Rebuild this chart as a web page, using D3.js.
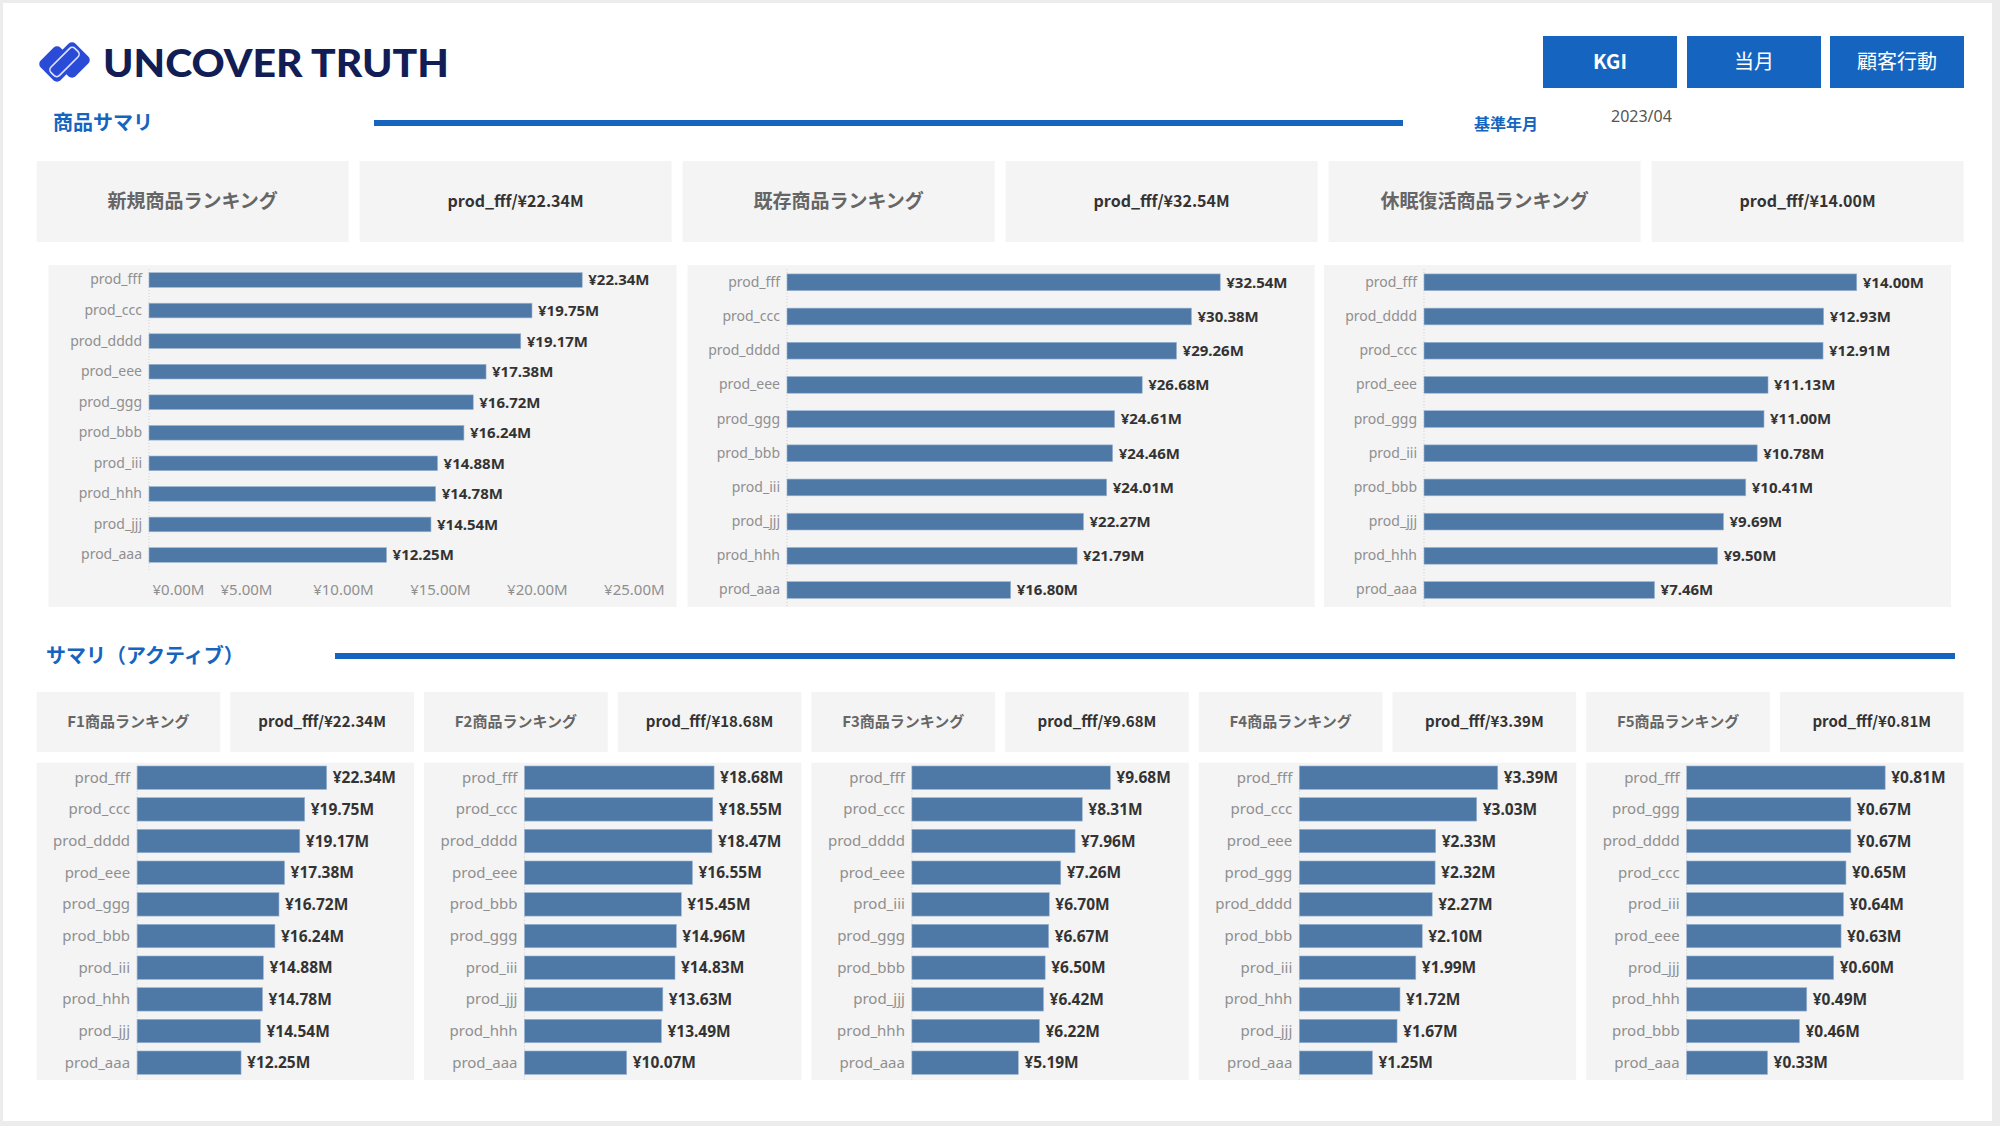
<!DOCTYPE html>
<html><head><meta charset="utf-8">
<script src="https://cdn.jsdelivr.net/npm/d3@7"></script>
<style>html,body{margin:0;padding:0;background:#fff;}svg{display:block}</style>
</head><body>
<svg id="c" width="2000" height="1126"></svg>
<script>
// ---------------- data ----------------
const brandName = "UNCOVER TRUTH";
const navButtons = ["KGI", "当月", "顧客行動"];
const section1Title = "商品サマリ";
const section2Title = "サマリ（アクティブ）";
const baseMonthLabel = "基準年月";
const baseMonth = "2023/04";

const topTitles = ["新規商品ランキング", "既存商品ランキング", "休眠復活商品ランキング"];

const newCats = ["prod_fff","prod_ccc","prod_dddd","prod_eee","prod_ggg","prod_bbb","prod_iii","prod_hhh","prod_jjj","prod_aaa"];
const newVals = [22.34, 19.75, 19.17, 17.38, 16.72, 16.24, 14.88, 14.78, 14.54, 12.25];

const existCats = ["prod_fff","prod_ccc","prod_dddd","prod_eee","prod_ggg","prod_bbb","prod_iii","prod_jjj","prod_hhh","prod_aaa"];
const existVals = [32.54, 30.38, 29.26, 26.68, 24.61, 24.46, 24.01, 22.27, 21.79, 16.80];

const dormantCats = ["prod_fff","prod_dddd","prod_ccc","prod_eee","prod_ggg","prod_iii","prod_bbb","prod_jjj","prod_hhh","prod_aaa"];
const dormantVals = [14.00, 12.93, 12.91, 11.13, 11.00, 10.78, 10.41, 9.69, 9.50, 7.46];

const newAxisTicks = [0, 5, 10, 15, 20, 25];

const fTitles = ["F1商品ランキング", "F2商品ランキング", "F3商品ランキング", "F4商品ランキング", "F5商品ランキング"];

const f1Cats = ["prod_fff","prod_ccc","prod_dddd","prod_eee","prod_ggg","prod_bbb","prod_iii","prod_hhh","prod_jjj","prod_aaa"];
const f1Vals = [22.34, 19.75, 19.17, 17.38, 16.72, 16.24, 14.88, 14.78, 14.54, 12.25];

const f2Cats = ["prod_fff","prod_ccc","prod_dddd","prod_eee","prod_bbb","prod_ggg","prod_iii","prod_jjj","prod_hhh","prod_aaa"];
const f2Vals = [18.68, 18.55, 18.47, 16.55, 15.45, 14.96, 14.83, 13.63, 13.49, 10.07];

const f3Cats = ["prod_fff","prod_ccc","prod_dddd","prod_eee","prod_iii","prod_ggg","prod_bbb","prod_jjj","prod_hhh","prod_aaa"];
const f3Vals = [9.68, 8.31, 7.96, 7.26, 6.70, 6.67, 6.50, 6.42, 6.22, 5.19];

const f4Cats = ["prod_fff","prod_ccc","prod_eee","prod_ggg","prod_dddd","prod_bbb","prod_iii","prod_hhh","prod_jjj","prod_aaa"];
const f4Vals = [3.39, 3.03, 2.33, 2.32, 2.27, 2.10, 1.99, 1.72, 1.67, 1.25];

const f5Cats = ["prod_fff","prod_ggg","prod_dddd","prod_ccc","prod_iii","prod_eee","prod_jjj","prod_hhh","prod_bbb","prod_aaa"];
const f5Vals = [0.81, 0.67, 0.67, 0.65, 0.64, 0.63, 0.60, 0.49, 0.46, 0.33];

// ---------------- styles ----------------
const BLUE = "#1565c0", BAR = "#4e79a7", PANEL = "#f4f4f4";
const LAT = "'Noto Sans','Noto Sans CJK JP',sans-serif";
const JP = "'Noto Sans CJK JP','Noto Sans',sans-serif";
const fmt = v => "¥" + v.toFixed(2) + "M";

const svg = d3.select("#c");
svg.append("rect").attr("width", 2000).attr("height", 1126).attr("fill", "#ececec");
svg.append("rect").attr("x", 3).attr("y", 3).attr("width", 1989).attr("height", 1118).attr("fill", "#fff");

// ---------------- header ----------------
const logo = svg.append("g");
[[57, 64], [72, 60]].forEach(([cx, cy]) => {
  logo.append("rect").attr("x", -14).attr("y", -14).attr("width", 28).attr("height", 28).attr("rx", 5)
    .attr("transform", `translate(${cx},${cy}) rotate(45)`).attr("fill", "#2a4bd7");
});
logo.append("rect").attr("x", -17).attr("y", -6).attr("width", 34).attr("height", 12).attr("rx", 4)
  .attr("transform", "translate(64.5,62) rotate(-45)").attr("fill", "none").attr("stroke", "#dfe6ff").attr("stroke-width", 1.6);

svg.append("text").attr("x", 103).attr("y", 77).text(brandName)
  .attr("font-family", "Lato, 'Noto Sans', sans-serif").attr("font-weight", 900).attr("font-size", 38)
  .attr("fill", "#121c55").attr("textLength", 346).attr("lengthAdjust", "spacingAndGlyphs");

const btnX = [1543, 1687, 1830];
navButtons.forEach((b, i) => {
  svg.append("rect").attr("x", btnX[i]).attr("y", 36).attr("width", 134).attr("height", 52).attr("fill", BLUE);
  svg.append("text").attr("x", btnX[i] + 67).attr("y", 62).attr("dy", "0.35em").attr("text-anchor", "middle")
    .attr("font-family", JP).attr("font-size", 20).attr("font-weight", i === 0 ? 700 : 400).attr("fill", "#fff").text(b);
});

function sectionHeader(title, x, cy, lineX0, lineX1) {
  svg.append("text").attr("x", x).attr("y", cy).attr("dy", "0.36em").text(title)
    .attr("font-family", JP).attr("font-weight", 700).attr("font-size", 20).attr("fill", BLUE);
  svg.append("rect").attr("x", lineX0).attr("y", cy - 3).attr("width", lineX1 - lineX0).attr("height", 6).attr("fill", BLUE);
}
sectionHeader(section1Title, 53, 123, 374, 1403);
svg.append("text").attr("x", 1474).attr("y", 124).attr("dy", "0.36em").text(baseMonthLabel)
  .attr("font-family", JP).attr("font-weight", 700).attr("font-size", 16).attr("fill", BLUE);
svg.append("text").attr("x", 1611).attr("y", 116).attr("dy", "0.36em").text(baseMonth)
  .attr("font-family", LAT).attr("font-size", 16).attr("fill", "#555");

sectionHeader(section2Title, 46, 656, 335, 1955);

// ---------------- KPI boxes ----------------
function box(x, y, w, h, label, size, color) {
  svg.append("rect").attr("x", x).attr("y", y).attr("width", w).attr("height", h).attr("fill", PANEL);
  svg.append("text").attr("x", x + w / 2).attr("y", y + h / 2).attr("dy", "0.36em").attr("text-anchor", "middle")
    .attr("font-family", JP).attr("font-weight", 700).attr("font-size", size).attr("fill", color).text(label);
}
const topSets = [[newCats, newVals], [existCats, existVals], [dormantCats, dormantVals]];
topSets.forEach(([c, v], i) => {
  box(36.6 + (2 * i) * 323, 161, 312, 81, topTitles[i], 19, "#666");
  box(36.6 + (2 * i + 1) * 323, 161, 312, 81, `${c[0]}/${fmt(v[0])}`, 16, "#333");
});
const fSets = [[f1Cats, f1Vals], [f2Cats, f2Vals], [f3Cats, f3Vals], [f4Cats, f4Vals], [f5Cats, f5Vals]];
fSets.forEach(([c, v], i) => {
  box(36.6 + (2 * i) * 193.7, 692, 183.7, 60, fTitles[i], 15, "#666");
  box(36.6 + (2 * i + 1) * 193.7, 692, 183.7, 60, `${c[0]}/${fmt(v[0])}`, 15, "#333");
});

// ---------------- bar charts ----------------
function measure(str, size, weight) {
  const t = svg.append("text").attr("font-family", LAT).attr("font-size", size).attr("font-weight", weight).text(str);
  const w = t.node().getComputedTextLength(); t.remove(); return w;
}
function barChart(o) {
  const g = svg.append("g");
  g.append("rect").attr("x", o.px).attr("y", o.py).attr("width", o.pw).attr("height", o.ph).attr("fill", PANEL);
  const n = o.cats.length;
  const step = (o.c1 - o.c0) / (n - 1);
  const y = d3.scaleBand().domain(o.cats).range([o.c0 - step / 2, o.c1 + step / 2])
    .paddingInner(o.pad).paddingOuter(o.pad / 2);
  const bs = o.px + o.start;
  const maxV = d3.max(o.vals);
  const lw = measure(fmt(maxV), o.valSize, 700);
  const barMax = o.px + o.pw - o.rm - 6 - lw - bs;
  const x = d3.scaleLinear().domain([0, maxV]).range([bs, bs + barMax]);

  g.append("line").attr("x1", bs).attr("x2", bs).attr("y1", o.py + 4).attr("y2", o.lineEnd)
    .attr("stroke", "#cfcfcf").attr("stroke-dasharray", "1,2");

  const data = o.cats.map((c, i) => ({ c, v: o.vals[i] }));
  g.selectAll(".bar").data(data).join("rect")
    .attr("x", x(0)).attr("y", d => y(d.c)).attr("width", d => x(d.v) - x(0)).attr("height", y.bandwidth())
    .attr("fill", BAR).attr("stroke", "#9db6d3").attr("stroke-width", 0.6);
  g.selectAll(".val").data(data).join("text")
    .attr("x", d => x(d.v) + 6).attr("y", d => y(d.c) + y.bandwidth() / 2).attr("dy", "0.36em")
    .attr("font-family", LAT).attr("font-weight", 700).attr("font-size", o.valSize).attr("fill", "#333")
    .text(d => fmt(d.v));

  const ya = g.append("g").attr("transform", `translate(${bs},0)`)
    .call(d3.axisLeft(y).tickSize(0).tickPadding(7));
  ya.select(".domain").remove();
  ya.selectAll("text").attr("font-family", LAT).attr("font-size", o.catSize).attr("fill", "#8f8f8f");

  if (o.ticks) {
    const xa = g.append("g").attr("transform", `translate(0,${o.axisY})`)
      .call(d3.axisBottom(x).tickValues(o.ticks).tickFormat(fmt).tickSize(0).tickPadding(0));
    xa.select(".domain").remove();
    xa.selectAll("text").attr("font-family", LAT).attr("font-size", 15).attr("fill", "#8f8f8f");
    xa.selectAll("text").filter((d, i) => i === 0).attr("text-anchor", "start").attr("x", 3);
  }
}

const topPanelX = [48.5, 687.5, 1324];
barChart({ cats: newCats, vals: newVals, px: topPanelX[0], py: 265, pw: 628, ph: 342, start: 100.5,
  c0: 280, c1: 555, pad: 0.52, rm: 27, valSize: 15, catSize: 14, lineEnd: 572, ticks: newAxisTicks, axisY: 584.5 });
barChart({ cats: existCats, vals: existVals, px: topPanelX[1], py: 265, pw: 627, ph: 342, start: 99.5,
  c0: 282.3, c1: 590, pad: 0.51, rm: 27, valSize: 15, catSize: 14, lineEnd: 607 });
barChart({ cats: dormantCats, vals: dormantVals, px: topPanelX[2], py: 265, pw: 627, ph: 342, start: 100,
  c0: 282.3, c1: 590, pad: 0.51, rm: 27, valSize: 15, catSize: 14, lineEnd: 607 });

fSets.forEach(([c, v], i) => {
  barChart({ cats: c, vals: v, px: 36.6 + i * 387.4, py: 762.7, pw: 377.4, ph: 317.3, start: 100.5,
    c0: 777.7, c1: 1062.7, pad: 0.26, rm: 18, valSize: 15.5, catSize: 15, lineEnd: 1080 });
});
</script>
</body></html>
